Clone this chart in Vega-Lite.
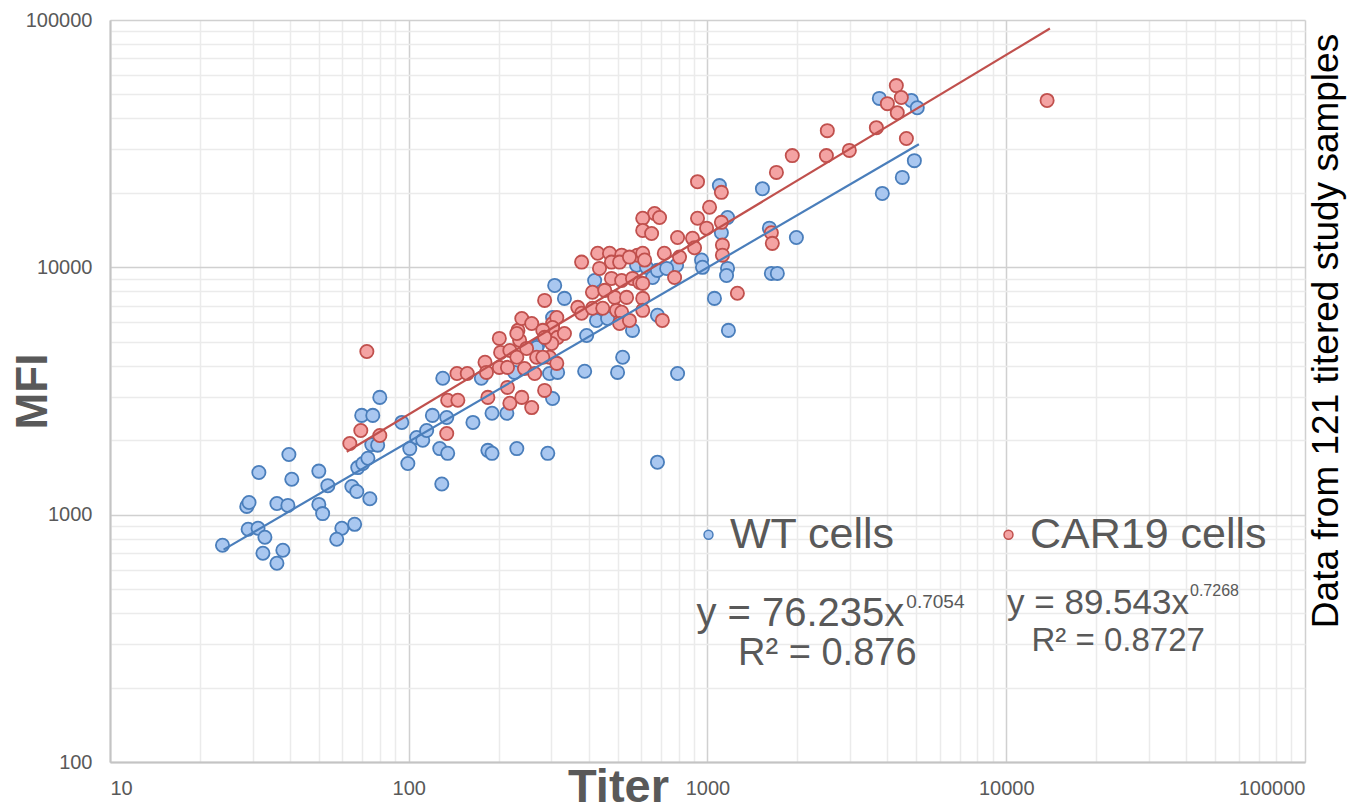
{
  "$schema": "https://vega.github.io/schema/vega-lite/v6.json",
  "width": 1195,
  "height": 742,
  "autosize": {"type": "none"},
  "padding": {"left": 110, "top": 20, "right": 50, "bottom": 49},
  "background": "white",
  "config": {
    "view": {"stroke": null},
    "font": "Liberation Sans",
    "axis": {"labelFontSize": 20, "labelColor": "#595959", "labelFont": "Liberation Sans", "ticks": false, "domainColor": "#c4c4c4", "domainWidth": 2, "gridWidth": 1.5, "titleColor": "#595959", "titleFont": "Liberation Sans", "titleFontWeight": "bold", "labelOverlap": false},
    "legend": {"labelLimit": 400}
  },
  "title": {"text": "Data from 121 titered study samples", "orient": "right", "angle": -90, "anchor": "middle", "fontSize": 37, "fontWeight": "normal", "color": "#000000", "offset": -33, "dx": 60, "font": "Liberation Sans"},
  "datasets": {
    "pts": [
      {"s":"WT cells","titer":23.8,"mfi":752},{"s":"WT cells","titer":29.0,"mfi":873},{"s":"WT cells","titer":31.3,"mfi":881},{"s":"WT cells","titer":33.0,"mfi":810},{"s":"WT cells","titer":32.5,"mfi":698},{"s":"WT cells","titer":36.2,"mfi":636},{"s":"WT cells","titer":37.9,"mfi":718},{"s":"WT cells","titer":28.7,"mfi":1080},{"s":"WT cells","titer":29.2,"mfi":1120},{"s":"WT cells","titer":36.2,"mfi":1110},{"s":"WT cells","titer":39.4,"mfi":1090},{"s":"WT cells","titer":31.5,"mfi":1480},{"s":"WT cells","titer":39.7,"mfi":1750},{"s":"WT cells","titer":40.6,"mfi":1390},{"s":"WT cells","titer":50.0,"mfi":1500},{"s":"WT cells","titer":53.6,"mfi":1310},{"s":"WT cells","titer":50.0,"mfi":1100},{"s":"WT cells","titer":51.5,"mfi":1010},{"s":"WT cells","titer":59.7,"mfi":881},{"s":"WT cells","titer":65.9,"mfi":914},{"s":"WT cells","titer":57.4,"mfi":795},{"s":"WT cells","titer":64.5,"mfi":1300},{"s":"WT cells","titer":67.0,"mfi":1240},{"s":"WT cells","titer":74.1,"mfi":1160},{"s":"WT cells","titer":67.5,"mfi":1550},{"s":"WT cells","titer":70.2,"mfi":1610},{"s":"WT cells","titer":73.0,"mfi":1690},{"s":"WT cells","titer":75.2,"mfi":1920},{"s":"WT cells","titer":78.7,"mfi":1910},{"s":"WT cells","titer":69.6,"mfi":2520},{"s":"WT cells","titer":75.8,"mfi":2520},{"s":"WT cells","titer":80.0,"mfi":2980},{"s":"WT cells","titer":94.8,"mfi":2360},{"s":"WT cells","titer":100.8,"mfi":1850},{"s":"WT cells","titer":99.3,"mfi":1610},{"s":"WT cells","titer":106.3,"mfi":2050},{"s":"WT cells","titer":111.4,"mfi":2000},{"s":"WT cells","titer":114.8,"mfi":2190},{"s":"WT cells","titer":120,"mfi":2520},{"s":"WT cells","titer":134,"mfi":2470},{"s":"WT cells","titer":127,"mfi":1850},{"s":"WT cells","titer":135,"mfi":1770},{"s":"WT cells","titer":130,"mfi":3560},{"s":"WT cells","titer":129,"mfi":1330},{"s":"WT cells","titer":164,"mfi":2360},{"s":"WT cells","titer":190,"mfi":2570},{"s":"WT cells","titer":213,"mfi":2570},{"s":"WT cells","titer":184,"mfi":1820},{"s":"WT cells","titer":190,"mfi":1770},{"s":"WT cells","titer":230,"mfi":1850},{"s":"WT cells","titer":292,"mfi":1770},{"s":"WT cells","titer":175,"mfi":3560},{"s":"WT cells","titer":308,"mfi":8450},{"s":"WT cells","titer":270,"mfi":4830},{"s":"WT cells","titer":226,"mfi":3760},{"s":"WT cells","titer":296,"mfi":3720},{"s":"WT cells","titer":303,"mfi":2950},{"s":"WT cells","titer":332,"mfi":7490},{"s":"WT cells","titer":419,"mfi":8850},{"s":"WT cells","titer":579,"mfi":10200},{"s":"WT cells","titer":625,"mfi":10000},{"s":"WT cells","titer":425,"mfi":6100},{"s":"WT cells","titer":463,"mfi":6210},{"s":"WT cells","titer":561,"mfi":5560},{"s":"WT cells","titer":394,"mfi":5300},{"s":"WT cells","titer":520,"mfi":4330},{"s":"WT cells","titer":388,"mfi":3800},{"s":"WT cells","titer":500,"mfi":3760},{"s":"WT cells","titer":315,"mfi":3760},{"s":"WT cells","titer":680,"mfi":1630},{"s":"WT cells","titer":655,"mfi":9100},{"s":"WT cells","titer":1096,"mfi":21400},{"s":"WT cells","titer":1527,"mfi":20800},{"s":"WT cells","titer":1167,"mfi":15900},{"s":"WT cells","titer":1113,"mfi":13800},{"s":"WT cells","titer":955,"mfi":10700},{"s":"WT cells","titer":962,"mfi":10000},{"s":"WT cells","titer":1167,"mfi":9900},{"s":"WT cells","titer":1158,"mfi":9270},{"s":"WT cells","titer":680,"mfi":9720},{"s":"WT cells","titer":788,"mfi":10200},{"s":"WT cells","titer":1055,"mfi":7490},{"s":"WT cells","titer":680,"mfi":6400},{"s":"WT cells","titer":1175,"mfi":5560},{"s":"WT cells","titer":794,"mfi":3720},{"s":"WT cells","titer":1636,"mfi":9450},{"s":"WT cells","titer":3760,"mfi":48200},{"s":"WT cells","titer":4813,"mfi":47300},{"s":"WT cells","titer":5036,"mfi":44200},{"s":"WT cells","titer":4925,"mfi":27000},{"s":"WT cells","titer":4488,"mfi":23100},{"s":"WT cells","titer":3847,"mfi":19900},{"s":"WT cells","titer":1611,"mfi":14400},{"s":"WT cells","titer":1984,"mfi":13200},{"s":"WT cells","titer":1713,"mfi":9450},{"s":"WT cells","titer":268,"mfi":4740},{"s":"WT cells","titer":303,"mfi":6270},{"s":"WT cells","titer":730,"mfi":9900},
      {"s":"CAR19 cells","titer":72.4,"mfi":4570},{"s":"CAR19 cells","titer":69.1,"mfi":2190},{"s":"CAR19 cells","titer":63.5,"mfi":1940},{"s":"CAR19 cells","titer":80.0,"mfi":2090},{"s":"CAR19 cells","titer":145,"mfi":3720},{"s":"CAR19 cells","titer":157,"mfi":3720},{"s":"CAR19 cells","titer":180,"mfi":4130},{"s":"CAR19 cells","titer":182,"mfi":3760},{"s":"CAR19 cells","titer":201,"mfi":5160},{"s":"CAR19 cells","titer":203,"mfi":4530},{"s":"CAR19 cells","titer":201,"mfi":3940},{"s":"CAR19 cells","titer":214,"mfi":3940},{"s":"CAR19 cells","titer":218,"mfi":4610},{"s":"CAR19 cells","titer":230,"mfi":4330},{"s":"CAR19 cells","titer":232,"mfi":5560},{"s":"CAR19 cells","titer":239,"mfi":6210},{"s":"CAR19 cells","titer":258,"mfi":5930},{"s":"CAR19 cells","titer":235,"mfi":5070},{"s":"CAR19 cells","titer":248,"mfi":4700},{"s":"CAR19 cells","titer":244,"mfi":3900},{"s":"CAR19 cells","titer":268,"mfi":4330},{"s":"CAR19 cells","titer":264,"mfi":3720},{"s":"CAR19 cells","titer":285,"mfi":7350},{"s":"CAR19 cells","titer":285,"mfi":3180},{"s":"CAR19 cells","titer":296,"mfi":4330},{"s":"CAR19 cells","titer":303,"mfi":5930},{"s":"CAR19 cells","titer":303,"mfi":5300},{"s":"CAR19 cells","titer":135,"mfi":2900},{"s":"CAR19 cells","titer":146,"mfi":2900},{"s":"CAR19 cells","titer":184,"mfi":2980},{"s":"CAR19 cells","titer":214,"mfi":3270},{"s":"CAR19 cells","titer":218,"mfi":2820},{"s":"CAR19 cells","titer":239,"mfi":2980},{"s":"CAR19 cells","titer":258,"mfi":2710},{"s":"CAR19 cells","titer":134,"mfi":2130},{"s":"CAR19 cells","titer":379,"mfi":10500},{"s":"CAR19 cells","titer":429,"mfi":11400},{"s":"CAR19 cells","titer":470,"mfi":11400},{"s":"CAR19 cells","titer":516,"mfi":11200},{"s":"CAR19 cells","titer":435,"mfi":9900},{"s":"CAR19 cells","titer":477,"mfi":10500},{"s":"CAR19 cells","titer":508,"mfi":10500},{"s":"CAR19 cells","titer":583,"mfi":11200},{"s":"CAR19 cells","titer":607,"mfi":11400},{"s":"CAR19 cells","titer":477,"mfi":9020},{"s":"CAR19 cells","titer":516,"mfi":8850},{"s":"CAR19 cells","titer":561,"mfi":9020},{"s":"CAR19 cells","titer":593,"mfi":8690},{"s":"CAR19 cells","titer":412,"mfi":7930},{"s":"CAR19 cells","titer":453,"mfi":8070},{"s":"CAR19 cells","titer":489,"mfi":7560},{"s":"CAR19 cells","titer":536,"mfi":7560},{"s":"CAR19 cells","titer":607,"mfi":7490},{"s":"CAR19 cells","titer":368,"mfi":6890},{"s":"CAR19 cells","titer":379,"mfi":6520},{"s":"CAR19 cells","titer":412,"mfi":6830},{"s":"CAR19 cells","titer":446,"mfi":6830},{"s":"CAR19 cells","titer":496,"mfi":6700},{"s":"CAR19 cells","titer":516,"mfi":6580},{"s":"CAR19 cells","titer":508,"mfi":5930},{"s":"CAR19 cells","titer":548,"mfi":6100},{"s":"CAR19 cells","titer":607,"mfi":6700},{"s":"CAR19 cells","titer":313,"mfi":6270},{"s":"CAR19 cells","titer":303,"mfi":5710},{"s":"CAR19 cells","titer":315,"mfi":5210},{"s":"CAR19 cells","titer":332,"mfi":5400},{"s":"CAR19 cells","titer":301,"mfi":4920},{"s":"CAR19 cells","titer":281,"mfi":4330},{"s":"CAR19 cells","titer":313,"mfi":4090},{"s":"CAR19 cells","titer":926,"mfi":22200},{"s":"CAR19 cells","titer":1113,"mfi":20100},{"s":"CAR19 cells","titer":1016,"mfi":17500},{"s":"CAR19 cells","titer":665,"mfi":16500},{"s":"CAR19 cells","titer":691,"mfi":15900},{"s":"CAR19 cells","titer":607,"mfi":15800},{"s":"CAR19 cells","titer":607,"mfi":14100},{"s":"CAR19 cells","titer":650,"mfi":13700},{"s":"CAR19 cells","titer":794,"mfi":13200},{"s":"CAR19 cells","titer":926,"mfi":15800},{"s":"CAR19 cells","titer":993,"mfi":14400},{"s":"CAR19 cells","titer":1113,"mfi":15200},{"s":"CAR19 cells","titer":1122,"mfi":12300},{"s":"CAR19 cells","titer":1122,"mfi":11200},{"s":"CAR19 cells","titer":891,"mfi":13100},{"s":"CAR19 cells","titer":905,"mfi":12000},{"s":"CAR19 cells","titer":717,"mfi":11400},{"s":"CAR19 cells","titer":806,"mfi":11000},{"s":"CAR19 cells","titer":616,"mfi":10700},{"s":"CAR19 cells","titer":776,"mfi":9100},{"s":"CAR19 cells","titer":607,"mfi":8610},{"s":"CAR19 cells","titer":706,"mfi":6100},{"s":"CAR19 cells","titer":1259,"mfi":7860},{"s":"CAR19 cells","titer":4286,"mfi":54300},{"s":"CAR19 cells","titer":4454,"mfi":48600},{"s":"CAR19 cells","titer":4000,"mfi":45900},{"s":"CAR19 cells","titer":4317,"mfi":42200},{"s":"CAR19 cells","titer":3675,"mfi":36700},{"s":"CAR19 cells","titer":4632,"mfi":33200},{"s":"CAR19 cells","titer":2518,"mfi":35700},{"s":"CAR19 cells","titer":1922,"mfi":28300},{"s":"CAR19 cells","titer":2500,"mfi":28300},{"s":"CAR19 cells","titer":2984,"mfi":29700},{"s":"CAR19 cells","titer":1701,"mfi":24200},{"s":"CAR19 cells","titer":1636,"mfi":13800},{"s":"CAR19 cells","titer":1648,"mfi":12500},{"s":"CAR19 cells","titer":13700,"mfi":47300},{"s":"CAR19 cells","titer":548,"mfi":11000},{"s":"CAR19 cells","titer":230,"mfi":5400},{"s":"CAR19 cells","titer":281,"mfi":5560},{"s":"CAR19 cells","titer":285,"mfi":5210}
    ],
    "fit": [
      {"s":"WT cells","titer":24,"mfi":722},
      {"s":"WT cells","titer":5100,"mfi":31440},
      {"s":"CAR19 cells","titer":62,"mfi":1797},
      {"s":"CAR19 cells","titer":14000,"mfi":92350}
    ],
    "one": [{"k": 1}]
  },
  "layer": [
    {
      "data": {"name": "pts"},
      "mark": {"type": "point", "shape": "circle", "filled": true, "size": 175, "strokeWidth": 1.8, "opacity": 1},
      "encoding": {
        "x": {
          "field": "titer", "type": "quantitative",
          "scale": {"type": "log", "domain": [10, 100000], "nice": false},
          "axis": {
            "values": [10,20,30,40,50,60,70,80,90,100,200,300,400,500,600,700,800,900,1000,2000,3000,4000,5000,6000,7000,8000,9000,10000,20000,30000,40000,50000,60000,70000,80000,90000,100000],
            "format": "d",
            "labelExpr": "abs(log(datum.value)/LN10 - round(log(datum.value)/LN10)) < 0.001 ? datum.label : ''",
            "labelFontSize": 20, "labelPadding": 16,
            "grid": true,
            "gridColor": {"condition": {"test": "abs(log(datum.value)/LN10 - round(log(datum.value)/LN10)) < 0.001", "value": "#d0d0d0"}, "value": "#ebebeb"},
            "title": "Titer", "titleFontSize": 47,
            "titleX": 508, "titleY": 39, "titleBaseline": "alphabetic", "titleAlign": "center"
          }
        },
        "y": {
          "field": "mfi", "type": "quantitative",
          "scale": {"type": "log", "domain": [100, 100000], "nice": false},
          "axis": {
            "values": [100,200,300,400,500,600,700,800,900,1000,2000,3000,4000,5000,6000,7000,8000,9000,10000,20000,30000,40000,50000,60000,70000,80000,90000,100000],
            "format": "d",
            "labelExpr": "abs(log(datum.value)/LN10 - round(log(datum.value)/LN10)) < 0.001 ? datum.label : ''",
            "labelFontSize": 20, "labelPadding": 18,
            "grid": true,
            "gridColor": {"condition": {"test": "abs(log(datum.value)/LN10 - round(log(datum.value)/LN10)) < 0.001", "value": "#d0d0d0"}, "value": "#ebebeb"},
            "title": "MFI", "titleFontSize": 44,
            "titleX": -77, "titleY": 371, "titleAngle": 270, "titleBaseline": "middle", "titleAlign": "center"
          }
        },
        "fill": {"field": "s", "type": "nominal",
          "scale": {"domain": ["WT cells", "CAR19 cells"], "range": ["#a9c7f0", "#f4a3a3"]},
          "legend": {"title": null, "orient": "none", "legendX": 577, "legendY": 493, "direction": "horizontal", "labelFontSize": 43, "labelColor": "#595959", "labelFont": "Liberation Sans", "symbolSize": 80, "symbolStrokeWidth": 1.5, "labelOffset": 0, "columnPadding": 92, "labelLimit": 400}},
        "stroke": {"field": "s", "type": "nominal",
          "scale": {"domain": ["WT cells", "CAR19 cells"], "range": ["#4a7ebb", "#c0504d"]},
          "legend": {"title": null, "orient": "none", "legendX": 577, "legendY": 493, "direction": "horizontal", "labelFontSize": 43, "labelColor": "#595959", "labelFont": "Liberation Sans", "symbolSize": 80, "symbolStrokeWidth": 1.5, "labelOffset": 0, "columnPadding": 92, "labelLimit": 400}}
      }
    },
    {
      "data": {"name": "fit"},
      "mark": {"type": "line", "strokeWidth": 2.2},
      "encoding": {
        "x": {"field": "titer", "type": "quantitative"},
        "y": {"field": "mfi", "type": "quantitative"},
        "stroke": {"field": "s", "type": "nominal", "legend": null},
        "detail": {"field": "s", "type": "nominal"}
      }
    },
    {
      "data": {"name": "one"},
      "mark": {"type": "text", "align": "right", "baseline": "alphabetic", "fontSize": 40, "color": "#595959", "font": "Liberation Sans"},
      "encoding": {"x": {"datum": 4560, "type": "quantitative"}, "y": {"datum": 354, "type": "quantitative"}, "text": {"value": "y = 76.235x"}}
    },
    {
      "data": {"name": "one"},
      "mark": {"type": "text", "align": "left", "baseline": "alphabetic", "fontSize": 19, "color": "#595959", "font": "Liberation Sans", "dx": 2},
      "encoding": {"x": {"datum": 4560, "type": "quantitative"}, "y": {"datum": 418, "type": "quantitative"}, "text": {"value": "0.7054"}}
    },
    {
      "data": {"name": "one"},
      "mark": {"type": "text", "align": "center", "baseline": "alphabetic", "fontSize": 38, "color": "#595959", "font": "Liberation Sans"},
      "encoding": {"x": {"datum": 2518, "type": "quantitative"}, "y": {"datum": 246, "type": "quantitative"}, "text": {"value": "R² = 0.876"}}
    },
    {
      "data": {"name": "one"},
      "mark": {"type": "text", "align": "right", "baseline": "alphabetic", "fontSize": 35, "color": "#595959", "font": "Liberation Sans"},
      "encoding": {"x": {"datum": 40900, "type": "quantitative"}, "y": {"datum": 395, "type": "quantitative"}, "text": {"value": "y = 89.543x"}}
    },
    {
      "data": {"name": "one"},
      "mark": {"type": "text", "align": "left", "baseline": "alphabetic", "fontSize": 16, "color": "#595959", "font": "Liberation Sans", "dx": 1},
      "encoding": {"x": {"datum": 40900, "type": "quantitative"}, "y": {"datum": 467, "type": "quantitative"}, "text": {"value": "0.7268"}}
    },
    {
      "data": {"name": "one"},
      "mark": {"type": "text", "align": "center", "baseline": "alphabetic", "fontSize": 33, "color": "#595959", "font": "Liberation Sans"},
      "encoding": {"x": {"datum": 23700, "type": "quantitative"}, "y": {"datum": 280, "type": "quantitative"}, "text": {"value": "R² = 0.8727"}}
    }
  ]
}
